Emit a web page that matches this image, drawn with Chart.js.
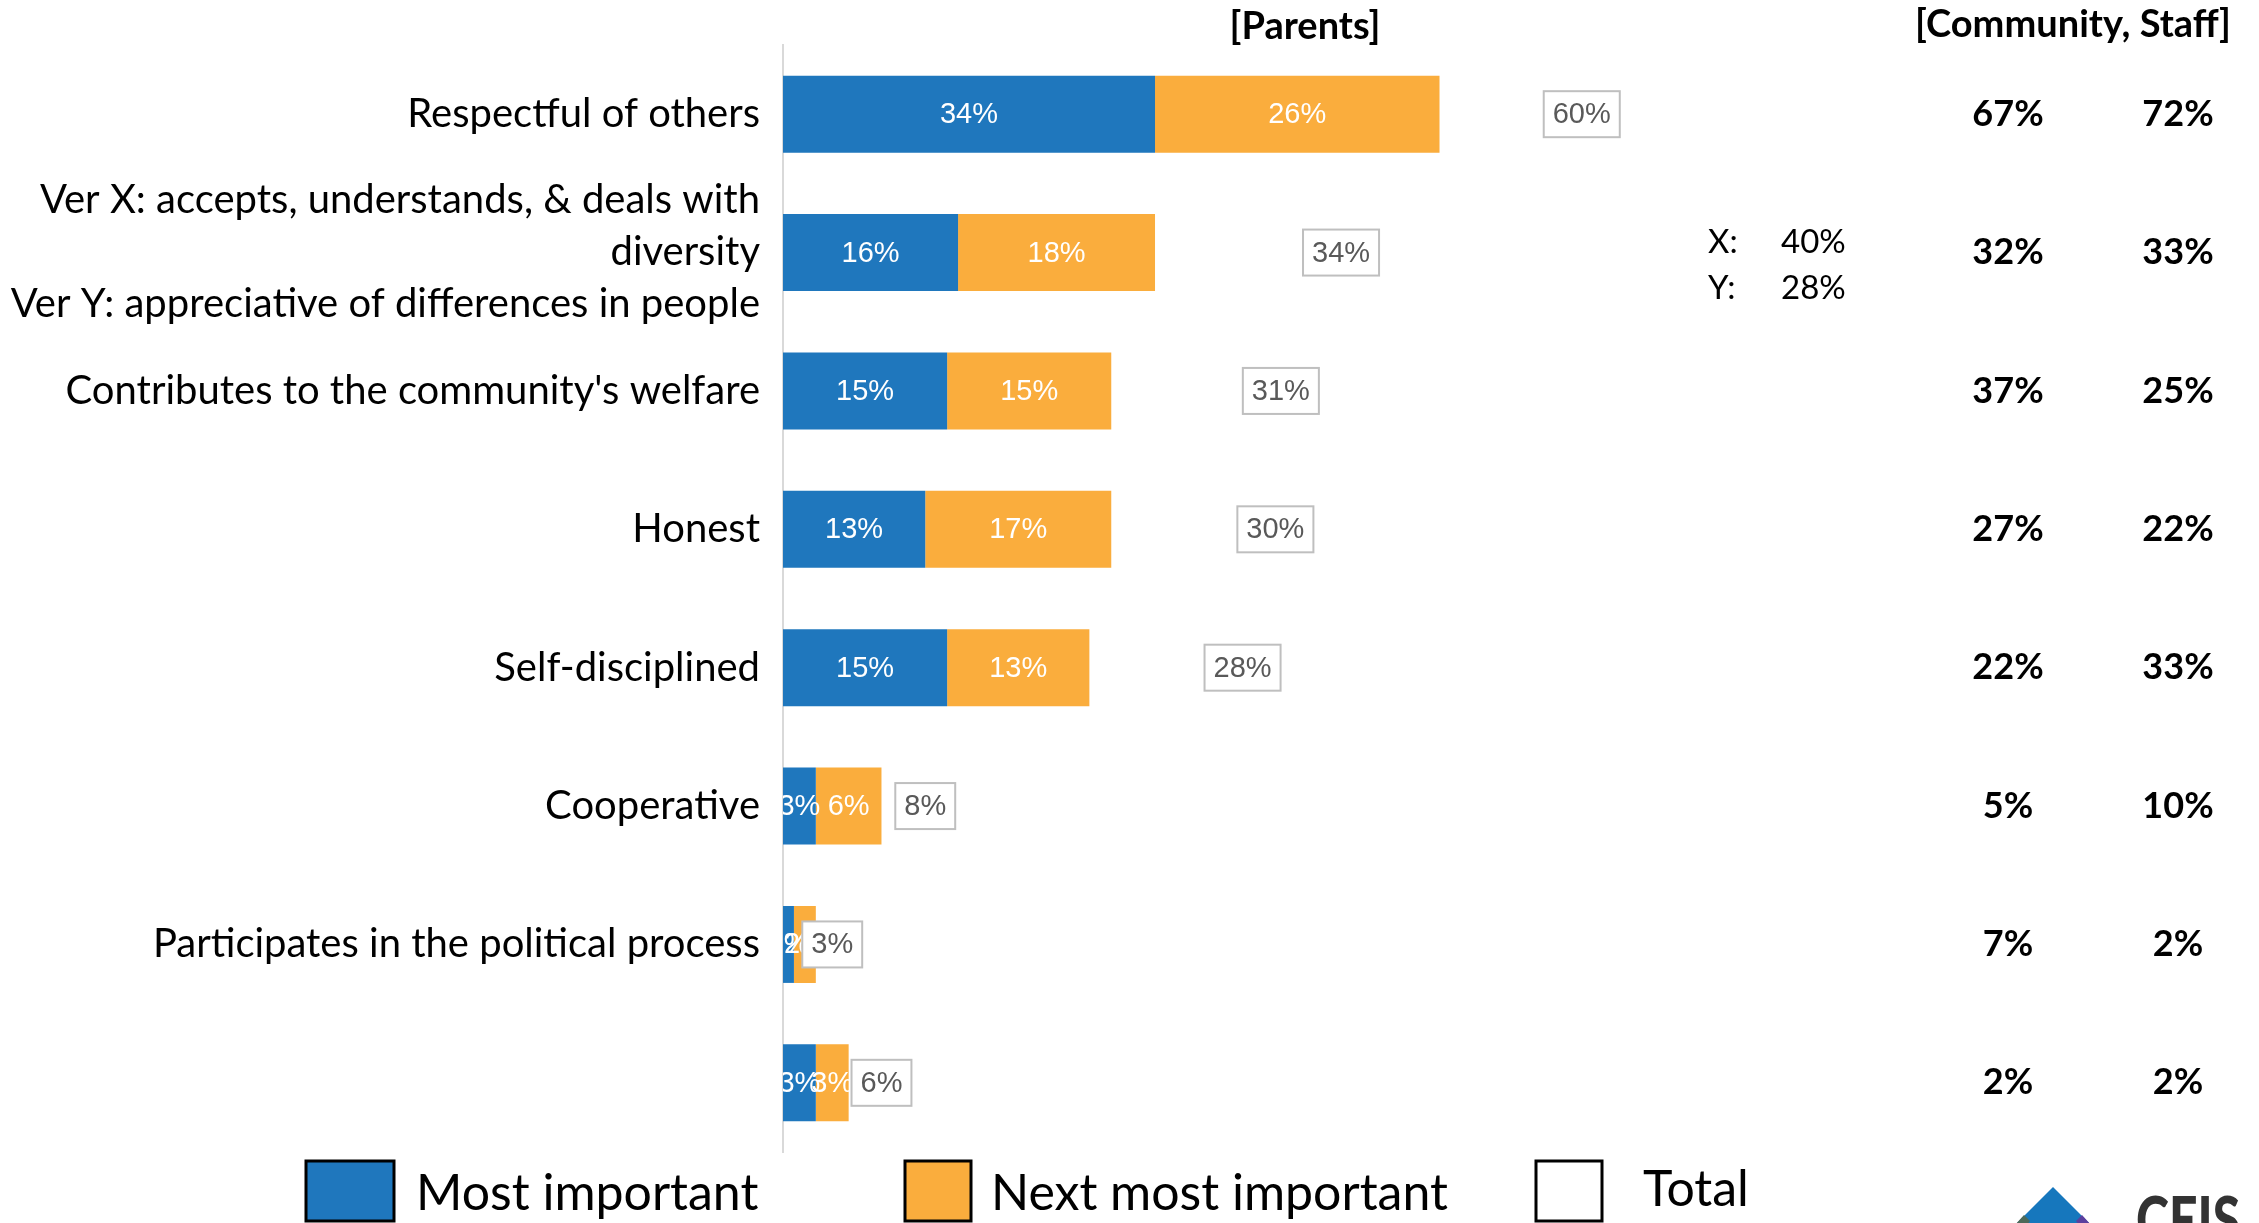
<!DOCTYPE html>
<html>
<head>
<meta charset="utf-8">
<title>Most important civic values</title>
<script src="https://cdn.jsdelivr.net/npm/chart.js@4.4.1/dist/chart.umd.min.js"></script>
<style>
  html, body { margin: 0; padding: 0; background: #fff; }
  #wrap { position: relative; width: 2259px; height: 1223px; }
</style>
</head>
<body>
<div id="wrap"><canvas id="chart" width="2259" height="1223"></canvas></div>
<script>
const categories = [
    "Respectful of others",
    ["Ver X: accepts, understands, & deals with", "diversity", "Ver Y: appreciative of differences in people"],
    "Contributes to the community's welfare",
    "Honest",
    "Self-disciplined",
    "Cooperative",
    "Participates in the political process",
    "",
];
const mostImportant = [34, 16, 15, 13, 15, 3, 1, 3];
const nextMostImportant = [26, 18, 15, 17, 13, 6, 2, 3];
const totals = [60, 34, 31, 30, 28, 8, 3, 6];
const communityValues = [67, 32, 37, 27, 22, 5, 7, 2];
const staffValues = [72, 33, 25, 22, 33, 10, 2, 2];
const versionNotes = [["X:", 40], ["Y:", 28]];
const xAxisMax = 86;

const BLUE = "#1f77bd";
const ORANGE = "#faad3d";
const FONT = 'Lato, "Open Sans", sans-serif';
const LABEL_FONT = '"Liberation Sans", Arial, sans-serif';

const pct = (v) => `${v}%`;

// white labels inside the bars, boxed grey labels for the totals
const barLabels = {
    id: "barLabels",
    afterDatasetsDraw(chart) {
        const { ctx, chartArea } = chart;
        ctx.save();
        ctx.beginPath();
        ctx.rect(chartArea.left, chartArea.top, chartArea.right - chartArea.left, chartArea.bottom - chartArea.top);
        ctx.clip();
        ctx.font = `29px ${LABEL_FONT}`;
        ctx.textAlign = "center";
        ctx.textBaseline = "middle";

        [0, 1].forEach((di) => {
            const ds = chart.data.datasets[di];
            chart.getDatasetMeta(di).data.forEach((bar, i) => {
                ctx.fillStyle = "#ffffff";
                ctx.fillText(pct(ds.data[i]), (bar.x + bar.base) / 2, bar.y + 1);
            });
        });

        const totalDs = chart.data.datasets[2];
        chart.getDatasetMeta(2).data.forEach((bar, i) => {
            const end = Math.min(bar.x, chartArea.right);
            const cx = (bar.base + end) / 2;
            const text = pct(totalDs.data[i]);
            const w = ctx.measureText(text).width + 18;
            const h = 46;
            ctx.fillStyle = "#ffffff";
            ctx.fillRect(cx - w / 2, bar.y - h / 2, w, h);
            ctx.strokeStyle = "#bfbfbf";
            ctx.lineWidth = 2;
            ctx.strokeRect(cx - w / 2, bar.y - h / 2, w, h);
            ctx.fillStyle = "#595959";
            ctx.fillText(text, cx, bar.y + 1);
        });
        ctx.restore();
    },
};

// headers, comparison columns, legend and logo
const sideText = {
    id: "sideText",
    afterDraw(chart) {
        const { ctx } = chart;
        const y = chart.scales.y;
        ctx.save();
        ctx.fillStyle = "#000000";
        ctx.textBaseline = "middle";
        ctx.textAlign = "center";

        ctx.font = `bold 38px ${FONT}`;
        ctx.fillText("[Parents]", 1305, 27);
        ctx.fillText("[Community, Staff]", 2073, 25);

        ctx.font = `bold 36px ${FONT}`;
        categories.forEach((_, i) => {
            const cy = y.getPixelForValue(i);
            ctx.fillText(pct(communityValues[i]), 2008, cy);
            ctx.fillText(pct(staffValues[i]), 2178, cy);
        });

        ctx.font = `33px ${FONT}`;
        ctx.textAlign = "left";
        const noteY = y.getPixelForValue(1);
        versionNotes.forEach(([tag, value], k) => {
            const ty = noteY - 10 + k * 46;
            ctx.fillText(tag, 1708, ty);
            ctx.fillText(pct(value), 1781, ty);
        });

        // legend
        const slots = [
            { boxX: 306, boxW: 88, textX: 416 },
            { boxX: 905, boxW: 66, textX: 991 },
            { boxX: 1536, boxW: 66, textX: 1643 },
        ];
        ctx.font = `50px ${FONT}`;
        ctx.textBaseline = "alphabetic";
        chart.data.datasets.forEach((ds, i) => {
            const s = slots[i];
            ctx.fillStyle = ds.legendFill;
            ctx.fillRect(s.boxX, 1161, s.boxW, 60);
            ctx.strokeStyle = "#000000";
            ctx.lineWidth = 3;
            ctx.strokeRect(s.boxX, 1161, s.boxW, 60);
            ctx.fillStyle = "#000000";
            ctx.fillText(ds.label, s.textX, i === 2 ? 1206 : 1210);
        });

        // logo, cut off by the bottom edge
        ctx.fillStyle = "#1677bd";
        ctx.beginPath();
        ctx.moveTo(2053, 1187);
        ctx.lineTo(2092, 1226);
        ctx.lineTo(2014, 1226);
        ctx.closePath();
        ctx.fill();
        ctx.fillStyle = "#4d6a5a";
        ctx.beginPath();
        ctx.moveTo(2024, 1215);
        ctx.lineTo(2030, 1221);
        ctx.lineTo(2026, 1226);
        ctx.lineTo(2014, 1226);
        ctx.closePath();
        ctx.fill();
        ctx.fillStyle = "#5b3f9e";
        ctx.beginPath();
        ctx.moveTo(2082, 1215);
        ctx.lineTo(2092, 1226);
        ctx.lineTo(2080, 1226);
        ctx.lineTo(2076, 1221);
        ctx.closePath();
        ctx.fill();
        ctx.fillStyle = "#333333";
        ctx.font = `900 64px ${FONT}`;
        ctx.translate(2136, 1243);
        ctx.scale(0.78, 1);
        ctx.fillText("CEIS", 0, 0);
        ctx.restore();
    },
};

new Chart(document.getElementById("chart").getContext("2d"), {
    type: "bar",
    data: {
        labels: categories,
        datasets: [
            { label: "Most important", data: mostImportant, backgroundColor: BLUE, legendFill: BLUE },
            { label: "Next most important", data: nextMostImportant, backgroundColor: ORANGE, legendFill: ORANGE },
            { label: "Total", data: totals, backgroundColor: "rgba(0,0,0,0)", legendFill: "#ffffff" },
        ],
    },
    options: {
        indexAxis: "y",
        responsive: false,
        animation: false,
        layout: { padding: { top: 45, right: 535, bottom: 71, left: 0 } },
        datasets: { bar: { categoryPercentage: 1, barPercentage: 0.556, borderWidth: 0 } },
        plugins: {
            legend: { display: false },
            tooltip: { enabled: false },
        },
        scales: {
            x: { stacked: true, min: 0, max: xAxisMax, display: false },
            y: {
                stacked: true,
                grid: { display: false },
                border: { display: true, color: "#d9d9d9", width: 2 },
                ticks: {
                    color: "#000000",
                    padding: 15,
                    autoSkip: false,
                    font: { family: FONT, size: 40, lineHeight: 1.3 },
                },
                afterFit(scale) { scale.width = 783; },
            },
        },
    },
    plugins: [barLabels, sideText],
});
</script>
</body>
</html>
